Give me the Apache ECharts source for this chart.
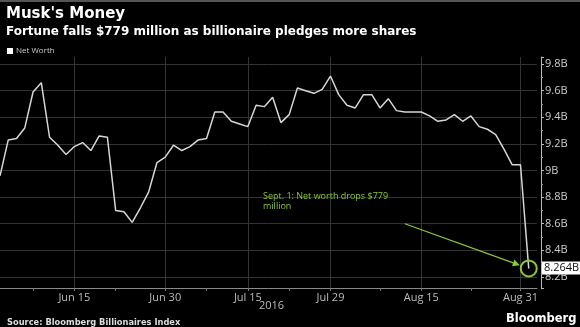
<!DOCTYPE html>
<html>
<head>
<meta charset="utf-8">
<script src="https://cdn.jsdelivr.net/npm/echarts@6/dist/echarts.min.js"></script>
<style>
html,body{margin:0;padding:0;background:#000;}
#chart{width:580px;height:327px;}
</style>
</head>
<body>
<div id="chart"></div>
<script>
// Trading days, Jun 2 – Sep 2, 2016 (Sep 2 has no value yet: axis room only)
const dates = [
  'Jun 2','Jun 3','Jun 6','Jun 7','Jun 8','Jun 9','Jun 10','Jun 13','Jun 14','Jun 15',
  'Jun 16','Jun 17','Jun 20','Jun 21','Jun 22','Jun 23','Jun 24','Jun 27','Jun 28','Jun 29','Jun 30',
  'Jul 1','Jul 5','Jul 6','Jul 7','Jul 8','Jul 11','Jul 12','Jul 13','Jul 14','Jul 15',
  'Jul 18','Jul 19','Jul 20','Jul 21','Jul 22','Jul 25','Jul 26','Jul 27','Jul 28','Jul 29',
  'Aug 1','Aug 2','Aug 3','Aug 4','Aug 5','Aug 8','Aug 9','Aug 10','Aug 11','Aug 12',
  'Aug 15','Aug 16','Aug 17','Aug 18','Aug 19','Aug 22','Aug 23','Aug 24','Aug 25','Aug 26',
  'Aug 29','Aug 30','Aug 31','Sep 1','Sep 2'
];
// Net worth, billions USD
const netWorth = [
  8.96, 9.23, 9.24, 9.32, 9.59, 9.66, 9.25, 9.19, 9.12, 9.18,
  9.21, 9.15, 9.26, 9.25, 8.70, 8.69, 8.61, 8.72, 8.84, 9.06, 9.10,
  9.19, 9.15, 9.18, 9.23, 9.24, 9.44, 9.44, 9.37, 9.35, 9.33,
  9.49, 9.48, 9.55, 9.36, 9.42, 9.62, 9.60, 9.58, 9.61, 9.71,
  9.57, 9.49, 9.47, 9.57, 9.57, 9.47, 9.54, 9.45, 9.44, 9.44,
  9.44, 9.41, 9.37, 9.38, 9.42, 9.37, 9.41, 9.33, 9.31, 9.27,
  9.16, 9.043, 9.043, 8.264
];
const labelDates = ['Jun 15','Jun 30','Jul 15','Jul 29','Aug 15','Aug 31'];
const tickDates = ['Jun 8','Jun 22','Jul 8','Jul 22','Aug 8','Aug 23'];
const yMin = 8.117, yMax = 9.853, yStep = 0.2;
const lastLabel = '8.264B';
const noteText = 'Sept. 1: Net worth drops $779\nmillion';
const arrowFrom = ['Aug 11', 8.60];

const green = '#8cc63f';
const grid = '#333';
const chart = echarts.init(document.getElementById('chart'), null, {renderer: 'canvas'});
const fmtY = v => {
  const q = Math.round(v / yStep) * yStep;
  if (Math.abs(v - q) > 1e-6) return '';
  const r = Math.round(q * 10) / 10;
  return (Number.isInteger(r) ? String(r) : r.toFixed(1)) + 'B';
};
chart.setOption({
  backgroundColor: '#000',
  animation: false,
  title: [
    {text: "Musk's Money", left: 1, top: 2,
     textStyle: {color: '#fff', fontSize: 15, fontWeight: 'bold', fontFamily: 'DejaVu Sans'}},
    {text: 'Fortune falls $779 million as billionaire pledges more shares', left: 1, top: 21,
     textStyle: {color: '#fff', fontSize: 12, fontWeight: 'bold', fontFamily: 'DejaVu Sans'}},
    {text: 'Source: Bloomberg Billionaires Index', left: 2, top: 314,
     textStyle: {color: '#ddd', fontSize: 8.3, fontWeight: 'bold', fontFamily: 'DejaVu Sans'}}
  ],
  legend: {
    left: 2, top: 42, itemWidth: 6, itemHeight: 6, icon: 'rect', itemGap: 4,
    textStyle: {color: '#ccc', fontSize: 8, fontFamily: 'Open Sans', padding: [0,0,0,-2]},
    data: ['Net Worth']
  },
  grid: {left: 0, right: 43, top: 57, bottom: 39, containLabel: false},
  xAxis: {
    type: 'category', data: dates, boundaryGap: false,
    axisLine: {lineStyle: {color: '#8a8a8a', width: 1}},
    axisTick: {show: true, length: 3, lineStyle: {color: '#777'},
      interval: (i, v) => tickDates.includes(v) || labelDates.includes(v)},
    axisLabel: {color: '#bbb', fontSize: 11, fontFamily: 'Open Sans', margin: 4,
      interval: (i, v) => labelDates.includes(v)},
    splitLine: {show: true, lineStyle: {color: grid, width: 1},
      interval: (i, v) => labelDates.includes(v)}
  },
  yAxis: {
    type: 'value', position: 'right', offset: 4, min: yMin, max: yMax, scale: true,
    splitNumber: 8, minInterval: yStep, maxInterval: yStep,
    axisLine: {show: true, lineStyle: {color: '#bbb', width: 1}},
    axisTick: {show: true, length: 3, lineStyle: {color: '#bbb'}},
    minorTick: {show: true, splitNumber: 2, length: 2, lineStyle: {color: '#999'}},
    axisLabel: {color: '#ccc', fontSize: 11, fontFamily: 'Open Sans', margin: 4,
      formatter: fmtY, showMinLabel: false, showMaxLabel: false},
    splitLine: {show: true, showMinLine: false, showMaxLine: false,
      lineStyle: {color: grid, width: 1}}
  },
  series: [{
    name: 'Net Worth', type: 'line', data: netWorth, symbol: 'none',
    itemStyle: {color: '#ffffff'},
    lineStyle: {color: '#d6d6d6', width: 1.5}
  }]
});

// Annotations positioned from data coordinates
const lastIdx = netWorth.length - 1;
const c = chart.convertToPixel({seriesIndex: 0}, [lastIdx, netWorth[lastIdx]]);
const s = chart.convertToPixel({seriesIndex: 0}, [dates.indexOf(arrowFrom[0]), arrowFrom[1]]);
const r = 8;
const dx = c[0] - s[0], dy = c[1] - s[1];
const len = Math.hypot(dx, dy);
const ux = dx / len, uy = dy / len;
const ex = c[0] - ux * (r + 1.5), ey = c[1] - uy * (r + 1.5);
const ah = 7, aw = 3.5;
const bx = ex - ux * ah, by = ey - uy * ah;
chart.setOption({
  graphic: [
    {type: 'rect', left: 0, top: 0, shape: {width: 580, height: 2}, style: {fill: '#555'}},
    {type: 'circle', shape: {cx: c[0], cy: c[1], r: r}, style: {fill: 'none', stroke: green, lineWidth: 2}, z: 10},
    {type: 'line', shape: {x1: s[0], y1: s[1], x2: bx, y2: by}, style: {stroke: green, lineWidth: 1.2}, z: 10},
    {type: 'polygon', shape: {points: [[ex, ey], [bx - uy * aw, by + ux * aw], [bx + uy * aw, by - ux * aw]]},
     style: {fill: green}, z: 10},
    {type: 'text', left: 263, top: 191, z: 10,
     style: {text: noteText, fill: green, font: '9px "Open Sans"', lineHeight: 10}},
    {type: 'text', left: 542, top: c[1] - 7, z: 10,
     style: {text: lastLabel, fill: '#111', font: '11px "Open Sans"', backgroundColor: '#fff',
       padding: [0, 2, 0, 2], lineHeight: 13}},
    {type: 'text', left: 259, top: 300, style: {text: '2016', fill: '#bbb', font: '11px "Open Sans"'}},
    {type: 'text', left: 506, top: 313, style: {text: 'Bloomberg', fill: '#fff', font: 'bold 11.5px "DejaVu Sans"'}}
  ]
});
</script>
</body>
</html>
